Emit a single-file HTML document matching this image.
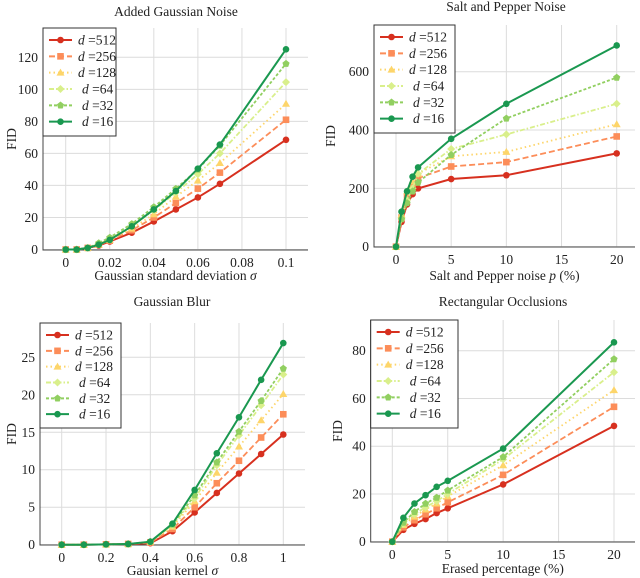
<!DOCTYPE html>
<html><head><meta charset="utf-8">
<style>
body{margin:0;background:#fff;}
svg{display:block;font-family:"Liberation Serif",serif;}
</style></head>
<body>
<svg id="chart" width="640" height="578" viewBox="0 0 640 578" xmlns="http://www.w3.org/2000/svg"></svg>
<script>
const seriesNames = ["512","256","128","64","32","16"];
const colors = ["#d7301f","#fc8d59","#fdd56a","#d9ef8b","#91cf60","#1a9850"];
const dashes = ["", "6,3", "1.5,3", "5,2,1.5,2", "3,2", ""];

const p1X = [0,0.005,0.01,0.015,0.02,0.03,0.04,0.05,0.06,0.07,0.1];
const p1_512 = [0,0,1,2.5,5,10.5,17.5,25,32.5,41,68.5];
const p1_256 = [0,0,1,3,5.5,12,20,29,38,48,81];
const p1_128 = [0,0,1,3,6,13,22,33,43,54,91];
const p1_64 = [0,0,1,3.5,6.5,14.5,24.5,35.5,47,60,104.5];
const p1_32 = [0,0,1,4,7.5,16,26.5,38,50,65,116];
const p1_16 = [0,0,1,3,6,14.5,25,36.5,50.5,65.5,125];
const p1XTicks = [0,0.02,0.04,0.06,0.08,0.1];
const p1XTickLabels = ["0","0.02","0.04","0.06","0.08","0.1"];
const p1YTicks = [0,20,40,60,80,100,120];

const p2X = [0,0.5,1,1.5,2,5,10,20];
const p2_512 = [0,85,145,180,200,232,245,320];
const p2_256 = [0,100,170,210,235,275,290,378];
const p2_128 = [0,110,190,225,250,310,325,420];
const p2_64 = [0,95,160,200,250,335,385,490];
const p2_32 = [0,95,150,190,220,315,440,580];
const p2_16 = [0,120,190,240,272,370,490,690];
const p2XTicks = [0,5,10,15,20];
const p2YTicks = [0,200,400,600];

const p3X = [0,0.1,0.2,0.3,0.4,0.5,0.6,0.7,0.8,0.9,1];
const p3_512 = [0,0,0.05,0.1,0.2,1.8,4.3,6.9,9.5,12.1,14.7];
const p3_256 = [0,0,0.05,0.1,0.3,2.1,5,8.2,11.2,14.3,17.4];
const p3_128 = [0,0,0.05,0.1,0.4,2.4,5.8,9.6,13.1,16.6,20.1];
const p3_64 = [0,0,0.05,0.1,0.4,2.6,6.2,10.6,14.6,18.6,22.7];
const p3_32 = [0,0,0.05,0.1,0.4,2.7,6.6,11,15.1,19.2,23.5];
const p3_16 = [0,0,0.05,0.1,0.4,2.8,7.3,12.2,17,22,26.9];
const p3XTicks = [0,0.2,0.4,0.6,0.8,1];
const p3YTicks = [0,5,10,15,20,25];

const p4X = [0,1,2,3,4,5,10,20];
const p4_512 = [0,5,7.5,9.5,12,14,24,48.5];
const p4_256 = [0,6,9,11.5,14,16.5,28,56.5];
const p4_128 = [0,7,10.5,13.5,16,19,32,63.5];
const p4_64 = [0,7.5,11.5,14.5,17,20,34.5,71];
const p4_32 = [0,8,12.5,16,18.5,21.5,35.5,76.5];
const p4_16 = [0,10,16,19.5,23,25.5,39,83.5];
const p4XTicks = [0,5,10,15,20];
const p4YTicks = [0,20,40,60,80];

const NS="http://www.w3.org/2000/svg";
const svg=document.getElementById("chart");
function mk(tag,attrs,parent){const e=document.createElementNS(NS,tag);for(const k in attrs)e.setAttribute(k,attrs[k]);(parent||svg).appendChild(e);return e;}

const panels=[
 {key:"gaussian-noise",title:"Added Gaussian Noise",xl:"Gaussian standard deviation ",xs:"σ",
  X:p1X,Y:[p1_512,p1_256,p1_128,p1_64,p1_32,p1_16],xt:p1XTicks,xtl:p1XTickLabels,yt:p1YTicks,
  L:43,R:308,T:28,B:250,xa:[0,65.7],xb:[0.1,286],ya:[0,249.5],yb:[120,57.3],
  titleX:176,titleY:16,xlY:280,ylX:12,leg:[43,28,116,136]},
 {key:"salt-pepper",title:"Salt and Pepper Noise",xl:"Salt and Pepper noise ",xs:"p",xe:" (%)",
  X:p2X,Y:[p2_512,p2_256,p2_128,p2_64,p2_32,p2_16],xt:p2XTicks,yt:p2YTicks,
  L:374,R:635,T:25,B:247,xa:[0,396],xb:[20,616.7],ya:[0,246.7],yb:[600,71.7],
  titleX:506,titleY:11,xlY:280,ylX:331,leg:[374,25,455,133]},
 {key:"gaussian-blur",title:"Gaussian Blur",xl:"Gausian kernel ",xs:"σ",
  X:p3X,Y:[p3_512,p3_256,p3_128,p3_64,p3_32,p3_16],xt:p3XTicks,yt:p3YTicks,
  L:40,R:305,T:323,B:545,xa:[0,61.7],xb:[1,283.3],ya:[0,544.7],yb:[25,357.3],
  titleX:172,titleY:306,xlY:575,ylX:12,leg:[40,323,121,428]},
 {key:"rect-occlusions",title:"Rectangular Occlusions",xl:"Erased percentage (%)",xs:"",
  X:p4X,Y:[p4_512,p4_256,p4_128,p4_64,p4_32,p4_16],xt:p4XTicks,yt:p4YTicks,
  L:370.7,R:635,T:320,B:542,xa:[0,392.3],xb:[20,614],ya:[0,541.7],yb:[80,350.7],
  titleX:503,titleY:306,xlY:573,ylX:338,leg:[370.7,320,458,428]}
];

function marker(g,i,x,y){
  const c=colors[i];let m;
  if(i===1){m=mk("rect",{x:x-3.3,y:y-3.3,width:6.6,height:6.6,fill:c},g);}
  else if(i===2){m=mk("polygon",{points:`${x},${y-4} ${x+4},${y+3} ${x-4},${y+3}`,fill:c},g);}
  else if(i===3){m=mk("polygon",{points:`${x},${y-4} ${x+4},${y} ${x},${y+4} ${x-4},${y}`,fill:c},g);}
  else if(i===4){m=mk("polygon",{points:`${x},${y-3.8} ${x+3.6},${y-1} ${x+2.2},${y+3.2} ${x-2.2},${y+3.2} ${x-3.6},${y-1}`,fill:c},g);}
  else {m=mk("circle",{cx:x,cy:y,r:3.3,fill:c},g);}
  
  
}

panels.forEach(p=>{
  const g=mk("g",{});
  
  
  const sx=v=>p.xa[1]+(v-p.xa[0])*(p.xb[1]-p.xa[1])/(p.xb[0]-p.xa[0]);
  const sy=v=>p.ya[1]+(v-p.ya[0])*(p.yb[1]-p.ya[1])/(p.yb[0]-p.ya[0]);
  p.xt.forEach((t,k)=>{
    const x=sx(t);
    const gl=mk("line",{x1:x,x2:x,y1:p.T,y2:p.B,stroke:"#dcdcdc","stroke-width":1},g);
    
    const tl=mk("text",{x:x,y:p.B+17,"text-anchor":"middle","font-size":13.5,fill:"#222"},g);
    tl.textContent=p.xtl?p.xtl[k]:String(t);
    
  });
  p.yt.forEach(t=>{
    const y=sy(t);
    const gl=mk("line",{x1:p.L,x2:p.R,y1:y,y2:y,stroke:"#dcdcdc","stroke-width":1},g);
    
    const tl=mk("text",{x:p.L-5,y:y+4.5,"text-anchor":"end","font-size":13.5,fill:"#222"},g);
    tl.textContent=String(t);
    
  });
  const ax=mk("path",{d:`M${p.L},${p.T} V${p.B} H${p.R}`,stroke:"#444",fill:"none","stroke-width":1},g);
  
  p.Y.forEach((arr,i)=>{
    const sg=mk("g",{},g);
    
    
    const pts=arr.map((v,j)=>sx(p.X[j])+","+sy(v)).join(" ");
    const pl=mk("polyline",{points:pts,fill:"none",stroke:colors[i],"stroke-width":(i===0||i===5)?2:1.8,"stroke-dasharray":dashes[i]},sg);
    
    arr.forEach((v,j)=>marker(sg,i,sx(p.X[j]),sy(v)));
  });
  const [lx,ly,rx,by]=p.leg;
  const lg=mk("g",{},g);
  
  mk("rect",{x:lx,y:ly,width:rx-lx,height:by-ly,fill:"#fff",stroke:"#333","stroke-width":1},lg);
  const rowH=(by-ly-10)/6;
  seriesNames.forEach((n,i)=>{
    const y=ly+12+i*rowH;
    const eg=mk("g",{},lg);
    
    mk("line",{x1:lx+6,x2:lx+29,y1:y,y2:y,stroke:colors[i],"stroke-width":2,"stroke-dasharray":dashes[i]},eg);
    marker(eg,i,lx+17.5,y);
    const t=mk("text",{x:lx+(n.length===3?35:39),y:y+4.5,"font-size":13.5,fill:"#222"},eg);
    t.innerHTML='<tspan font-style="italic">d</tspan> =' + n;
  });
  const tt=mk("text",{x:p.titleX,y:p.titleY,"text-anchor":"middle","font-size":13.5,fill:"#222"},g);
  tt.textContent=p.title;
  
  const xl=mk("text",{x:(p.L+p.R)/2,y:p.xlY,"text-anchor":"middle","font-size":13.5,fill:"#222"},g);
  xl.innerHTML=p.xl+(p.xs?'<tspan font-style="italic">'+p.xs+'</tspan>':'')+(p.xe||'');
  
  const cy=(p.T+p.B)/2;
  const yl=mk("text",{x:p.ylX,y:cy,"text-anchor":"middle","font-size":13.5,fill:"#222",transform:`rotate(-90 ${p.ylX} ${cy})`,dy:4},g);
  yl.textContent="FID";
  
});
</script>
</body></html>
